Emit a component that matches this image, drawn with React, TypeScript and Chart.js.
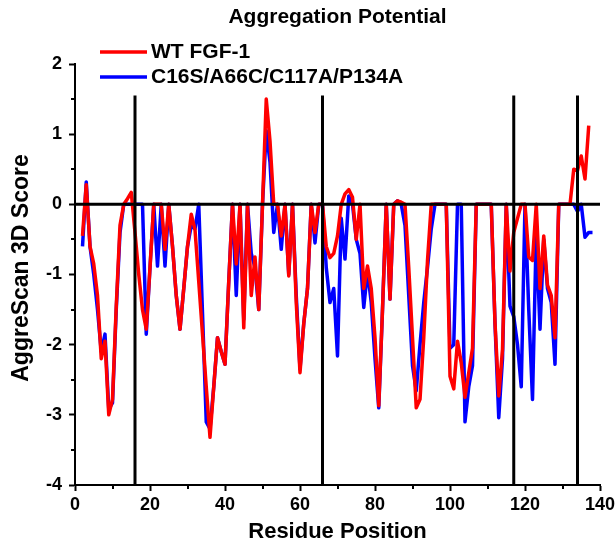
import { useEffect, useRef } from 'react';
import { Chart, registerables } from 'chart.js';

Chart.register(...registerables);

const FONT = "'Liberation Sans', Arial, sans-serif";

const chartTitle = 'Aggregation Potential';
const xAxisTitle = 'Residue Position';
const yAxisTitle = 'AggreScan 3D Score';
const seriesNames = ['WT FGF-1', 'C16S/A66C/C117A/P134A'];
const seriesColors = ['#FF0000', '#0000FF'];

const residueStart = 2;

// WT FGF-1, residues 2..137
const wtScores = [
  -0.45, 0.28, -0.6, -0.85, -1.3, -2.2, -1.95, -3.0, -2.78, -1.45,
  -0.3, 0, 0.08, 0.17, -0.4, -1.0, -1.5, -1.78, -0.9, 0,
  0, 0, -0.64, 0, -0.6, -1.3, -1.78, -1.2, -0.6, -0.14,
  -0.36, -1.1, -1.85, -2.6, -3.32, -2.6, -1.9, -2.1, -2.28, -1.1,
  0, -0.85, 0, -1.76, 0, -1.3, -0.75, -1.5, 0, 1.5,
  0.9, 0, 0, -0.45, 0, -1.02, 0, -1.4, -2.4, -1.7,
  -1.2, 0, -0.4, 0, 0, -0.6, -0.76, -0.7, -0.45, 0,
  0.15, 0.21, 0.1, -0.5, 0, -1.2, -0.88, -1.2, -1.9, -2.87,
  -1.5, 0, -1.35, 0, 0.05, 0.03, 0, -0.9, -1.9, -2.9,
  -2.78, -1.9, -0.8, 0, 0, 0, 0, 0, -2.45, -2.63,
  -1.95, -2.26, -2.75, -2.4, -2.05, 0, 0, 0, 0, 0,
  -1.69, -2.73, -2.07, 0, -0.95, -0.4, -0.2, 0, 0, -0.75,
  -0.8, 0, -1.2, -0.45, -1.15, -1.3, -1.9, 0, 0, 0,
  0, 0.5, 0.48, 0.69, 0.36, 1.12,
];

// C16S/A66C/C117A/P134A, residues 2..138
const mutantScores = [
  -0.6, 0.32, -0.6, -1.0, -1.5, -2.1, -1.85, -2.92, -2.83, -1.5,
  -0.4, 0, 0, 0, 0, 0, 0, -1.85, -0.9, 0,
  -0.88, 0, -0.88, 0, -0.6, -1.3, -1.78, -1.2, -0.6, -0.3,
  -0.35, 0, -1.55, -3.1, -3.2, -2.6, -1.9, -2.1, -2.28, -1.1,
  0, -1.3, 0, -1.64, 0, -0.7, -0.9, -1.5, 0, 1.05,
  0.6, -0.4, 0, -0.64, 0, -1.0, 0, -1.3, -2.35, -1.7,
  -1.2, 0, -0.55, 0, 0, -0.9, -1.4, -1.2, -2.16, -0.2,
  -0.78, 0.12, 0, -0.5, -0.7, -1.47, -0.95, -1.4, -2.2, -2.9,
  -1.5, 0, -1.35, 0, 0.05, 0, -0.3, -1.3, -2.3, -2.66,
  -2.0, -1.4, -0.9, -0.35, 0, 0, 0, 0, -2.05, -2.0,
  0, 0, -3.1, -2.6, -2.3, 0, 0, 0, 0, 0,
  -1.7, -3.04, -2.2, 0, -1.45, -1.6, -2.0, -2.6, 0, -1.5,
  -2.78, -0.4, -1.78, -0.5, -1.2, -1.4, -2.28, 0, 0, 0,
  0, 0, -0.1, 0, -0.47, -0.4, -0.4,
];

const domainBoundaries = [16, 66, 117, 134];
const boundaryTop = 1.55;
const xRange = [0, 140];
const yRange = [-4, 2];
const xMinorTicks = [10, 30, 50, 70, 90, 110, 130];
const yMinorTicks = [-3.5, -2.5, -1.5, -0.5, 0.5, 1.5];

const toPoints = (vals: number[]) => vals.map((y, i) => ({ x: residueStart + i, y }));

const decorPlugin = {
  id: 'decor',
  afterDraw(chart: any) {
    const { ctx, chartArea, scales } = chart;
    const xs = scales.x;
    const ys = scales.y;
    ctx.save();
    ctx.strokeStyle = '#000';
    ctx.lineWidth = 2;
    for (const v of xMinorTicks) {
      const px = Math.round(xs.getPixelForValue(v));
      ctx.beginPath();
      ctx.moveTo(px, chartArea.bottom);
      ctx.lineTo(px, chartArea.bottom + 4);
      ctx.stroke();
    }
    for (const v of yMinorTicks) {
      const py = Math.round(ys.getPixelForValue(v));
      ctx.beginPath();
      ctx.moveTo(chartArea.left, py);
      ctx.lineTo(chartArea.left - 4, py);
      ctx.stroke();
    }
    ctx.fillStyle = '#000';
    ctx.textBaseline = 'middle';
    // title
    ctx.font = `bold 21px ${FONT}`;
    ctx.textAlign = 'center';
    ctx.fillText(chartTitle, (chartArea.left + chartArea.right) / 2, 17);
    // legend
    ctx.font = `bold 21px ${FONT}`;
    ctx.textAlign = 'left';
    const legendY = [52, 77];
    seriesNames.forEach((name, i) => {
      ctx.strokeStyle = seriesColors[i];
      ctx.lineWidth = 3.5;
      ctx.beginPath();
      ctx.moveTo(100, legendY[i]);
      ctx.lineTo(147, legendY[i]);
      ctx.stroke();
      ctx.fillText(name, 151, legendY[i]);
    });
    // axis titles
    ctx.font = `bold 22px ${FONT}`;
    ctx.textAlign = 'center';
    ctx.fillText(xAxisTitle, (chartArea.left + chartArea.right) / 2, 532);
    ctx.font = `bold 23px ${FONT}`;
    ctx.translate(22, 268);
    ctx.rotate(-Math.PI / 2);
    ctx.fillText(yAxisTitle, 0, 0);
    ctx.restore();
  },
};

export default function App() {
  const ref = useRef<HTMLCanvasElement | null>(null);
  useEffect(() => {
    if (!ref.current) return;
    const black = '#000000';
    const refLines: any[] = [
      {
        data: [{ x: xRange[0], y: 0 }, { x: xRange[1], y: 0 }],
        borderColor: black,
        borderWidth: 3,
      },
      ...domainBoundaries.map((b) => ({
        data: [{ x: b, y: yRange[0] }, { x: b, y: boundaryTop }],
        borderColor: black,
        borderWidth: 3,
      })),
    ];
    const chart = new Chart(ref.current, {
      type: 'line',
      data: {
        datasets: [
          ...refLines,
          {
            label: seriesNames[0],
            data: toPoints(wtScores),
            borderColor: seriesColors[0],
            borderWidth: 3.5,
          },
          {
            label: seriesNames[1],
            data: toPoints(mutantScores),
            borderColor: seriesColors[1],
            borderWidth: 3.5,
          },
        ],
      },
      options: {
        animation: false,
        responsive: false,
        devicePixelRatio: 1,
        parsing: false as any,
        elements: {
          point: { radius: 0, hoverRadius: 0 },
          line: { tension: 0, borderJoinStyle: 'round', fill: false },
        },
        layout: { padding: { top: 64, right: 16, left: 0, bottom: 0 } },
        plugins: {
          legend: { display: false },
          title: { display: false },
          tooltip: { enabled: false },
        },
        scales: {
          x: {
            type: 'linear',
            min: xRange[0],
            max: xRange[1],
            afterFit: (s: any) => {
              s.height = 61;
              s.paddingLeft = 0;
              s.paddingRight = 0;
            },
            border: { display: true, color: black, width: 2 },
            grid: {
              display: true,
              drawOnChartArea: false,
              drawTicks: true,
              tickLength: 6,
              tickWidth: 2,
              tickColor: black,
            },
            ticks: {
              stepSize: 20,
              autoSkip: false,
              maxRotation: 0,
              padding: 3,
              color: black,
              font: { family: FONT, size: 18, weight: 'bold' },
            },
          },
          y: {
            type: 'linear',
            min: yRange[0],
            max: yRange[1],
            afterFit: (s: any) => {
              s.width = 75;
              s.paddingTop = 0;
              s.paddingBottom = 0;
            },
            border: { display: true, color: black, width: 2 },
            grid: {
              display: true,
              drawOnChartArea: false,
              drawTicks: true,
              tickLength: 6,
              tickWidth: 2,
              tickColor: black,
            },
            ticks: {
              stepSize: 1,
              autoSkip: false,
              padding: 7,
              color: black,
              font: { family: FONT, size: 18, weight: 'bold' },
            },
          },
        },
      },
      plugins: [decorPlugin],
    });
    return () => chart.destroy();
  }, []);
  return (
    <div style={{ position: 'absolute', left: 0, top: 0, width: 616, height: 546, background: '#fff' }}>
      <canvas ref={ref} width={616} height={546} style={{ width: 616, height: 546 }} />
    </div>
  );
}
